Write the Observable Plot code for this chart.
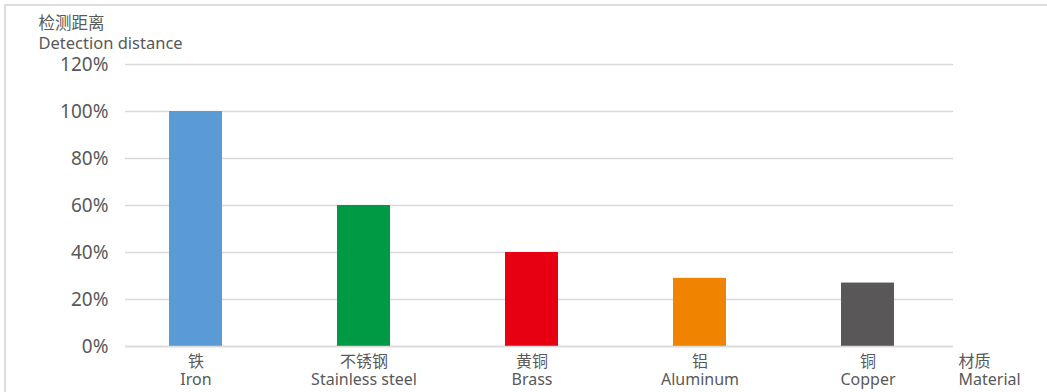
<!DOCTYPE html>
<html>
<head>
<meta charset="utf-8">
<script src="https://cdn.jsdelivr.net/npm/d3@7"></script>
<script src="https://cdn.jsdelivr.net/npm/@observablehq/plot@0.6"></script>
<style>
  html, body { margin: 0; padding: 0; background: #fff; }
  #wrap { position: relative; width: 1047px; height: 392px; overflow: hidden; }
  #border { position: absolute; left: 4px; top: 4px; width: 1100px; height: 400px;
            border-top: 2px solid #dedede; border-left: 2px solid #dedede; }
  #chart { position: absolute; left: 0; top: 0; }
</style>
</head>
<body>
<div id="wrap"><div id="border"></div><div id="chart"></div></div>
<script>
const categoriesCn = ["铁", "不锈钢", "黄铜", "铝", "铜"];
const categoriesEn = ["Iron", "Stainless steel", "Brass", "Aluminum", "Copper"];
const values = [1.00, 0.60, 0.40, 0.29, 0.27];
const barColors = ["#5b9bd5", "#009944", "#e60012", "#f08300", "#595757"];
const yTicks = [0, 0.2, 0.4, 0.6, 0.8, 1.0, 1.2];
const yTitle = "检测距离\nDetection distance";
const xTitle = "材质\nMaterial";

const data = categoriesEn.map((en, i) => ({en, cn: categoriesCn[i], v: values[i]}));
const labelOf = Object.fromEntries(data.map(d => [d.en, d.cn + "\n" + d.en]));

const font = "'Noto Sans', 'Noto Sans CJK SC', sans-serif";

const chart = Plot.plot({
  width: 1047,
  height: 392,
  marginTop: 64,
  marginBottom: 46,
  marginLeft: 125,
  marginRight: 94,
  style: {fontFamily: font, color: "#595959", background: "transparent"},
  x: {domain: categoriesEn, range: [110, 953], paddingInner: 0.685, paddingOuter: 0.3425},
  y: {domain: [0, 1.2]},
  color: {domain: categoriesEn, range: barColors},
  marks: [
    Plot.ruleY(yTicks, {stroke: "#d9d9d9", strokeWidth: 1.5}),
    Plot.barY(data, {x: "en", y: "v", fill: "en"}),
    Plot.ruleY([0], {stroke: "#d9d9d9", strokeWidth: 1.5}),
    Plot.axisY({ticks: yTicks, tickFormat: d3.format(".0%"), tickSize: 0, tickPadding: 17,
                fontSize: 19, fill: "#595959", label: null}),
    Plot.axisX({tickFormat: d => labelOf[d], tickSize: 0, tickPadding: 7,
                fontSize: 16, lineHeight: 1.15, fill: "#595959", label: null}),
    Plot.text([xTitle], {text: d => d, frameAnchor: "bottom-right", textAnchor: "start",
                lineAnchor: "top", dx: 5, dy: 7, fontSize: 16, lineHeight: 1.15, fill: "#595959"}),
    Plot.text([yTitle], {text: d => d, frameAnchor: "top-left", textAnchor: "start",
                lineAnchor: "bottom", dx: -87, dy: -16, fontSize: 16.5, lineHeight: 1.2, fill: "#595959"})
  ]
});
document.getElementById("chart").appendChild(chart);
</script>
</body>
</html>
